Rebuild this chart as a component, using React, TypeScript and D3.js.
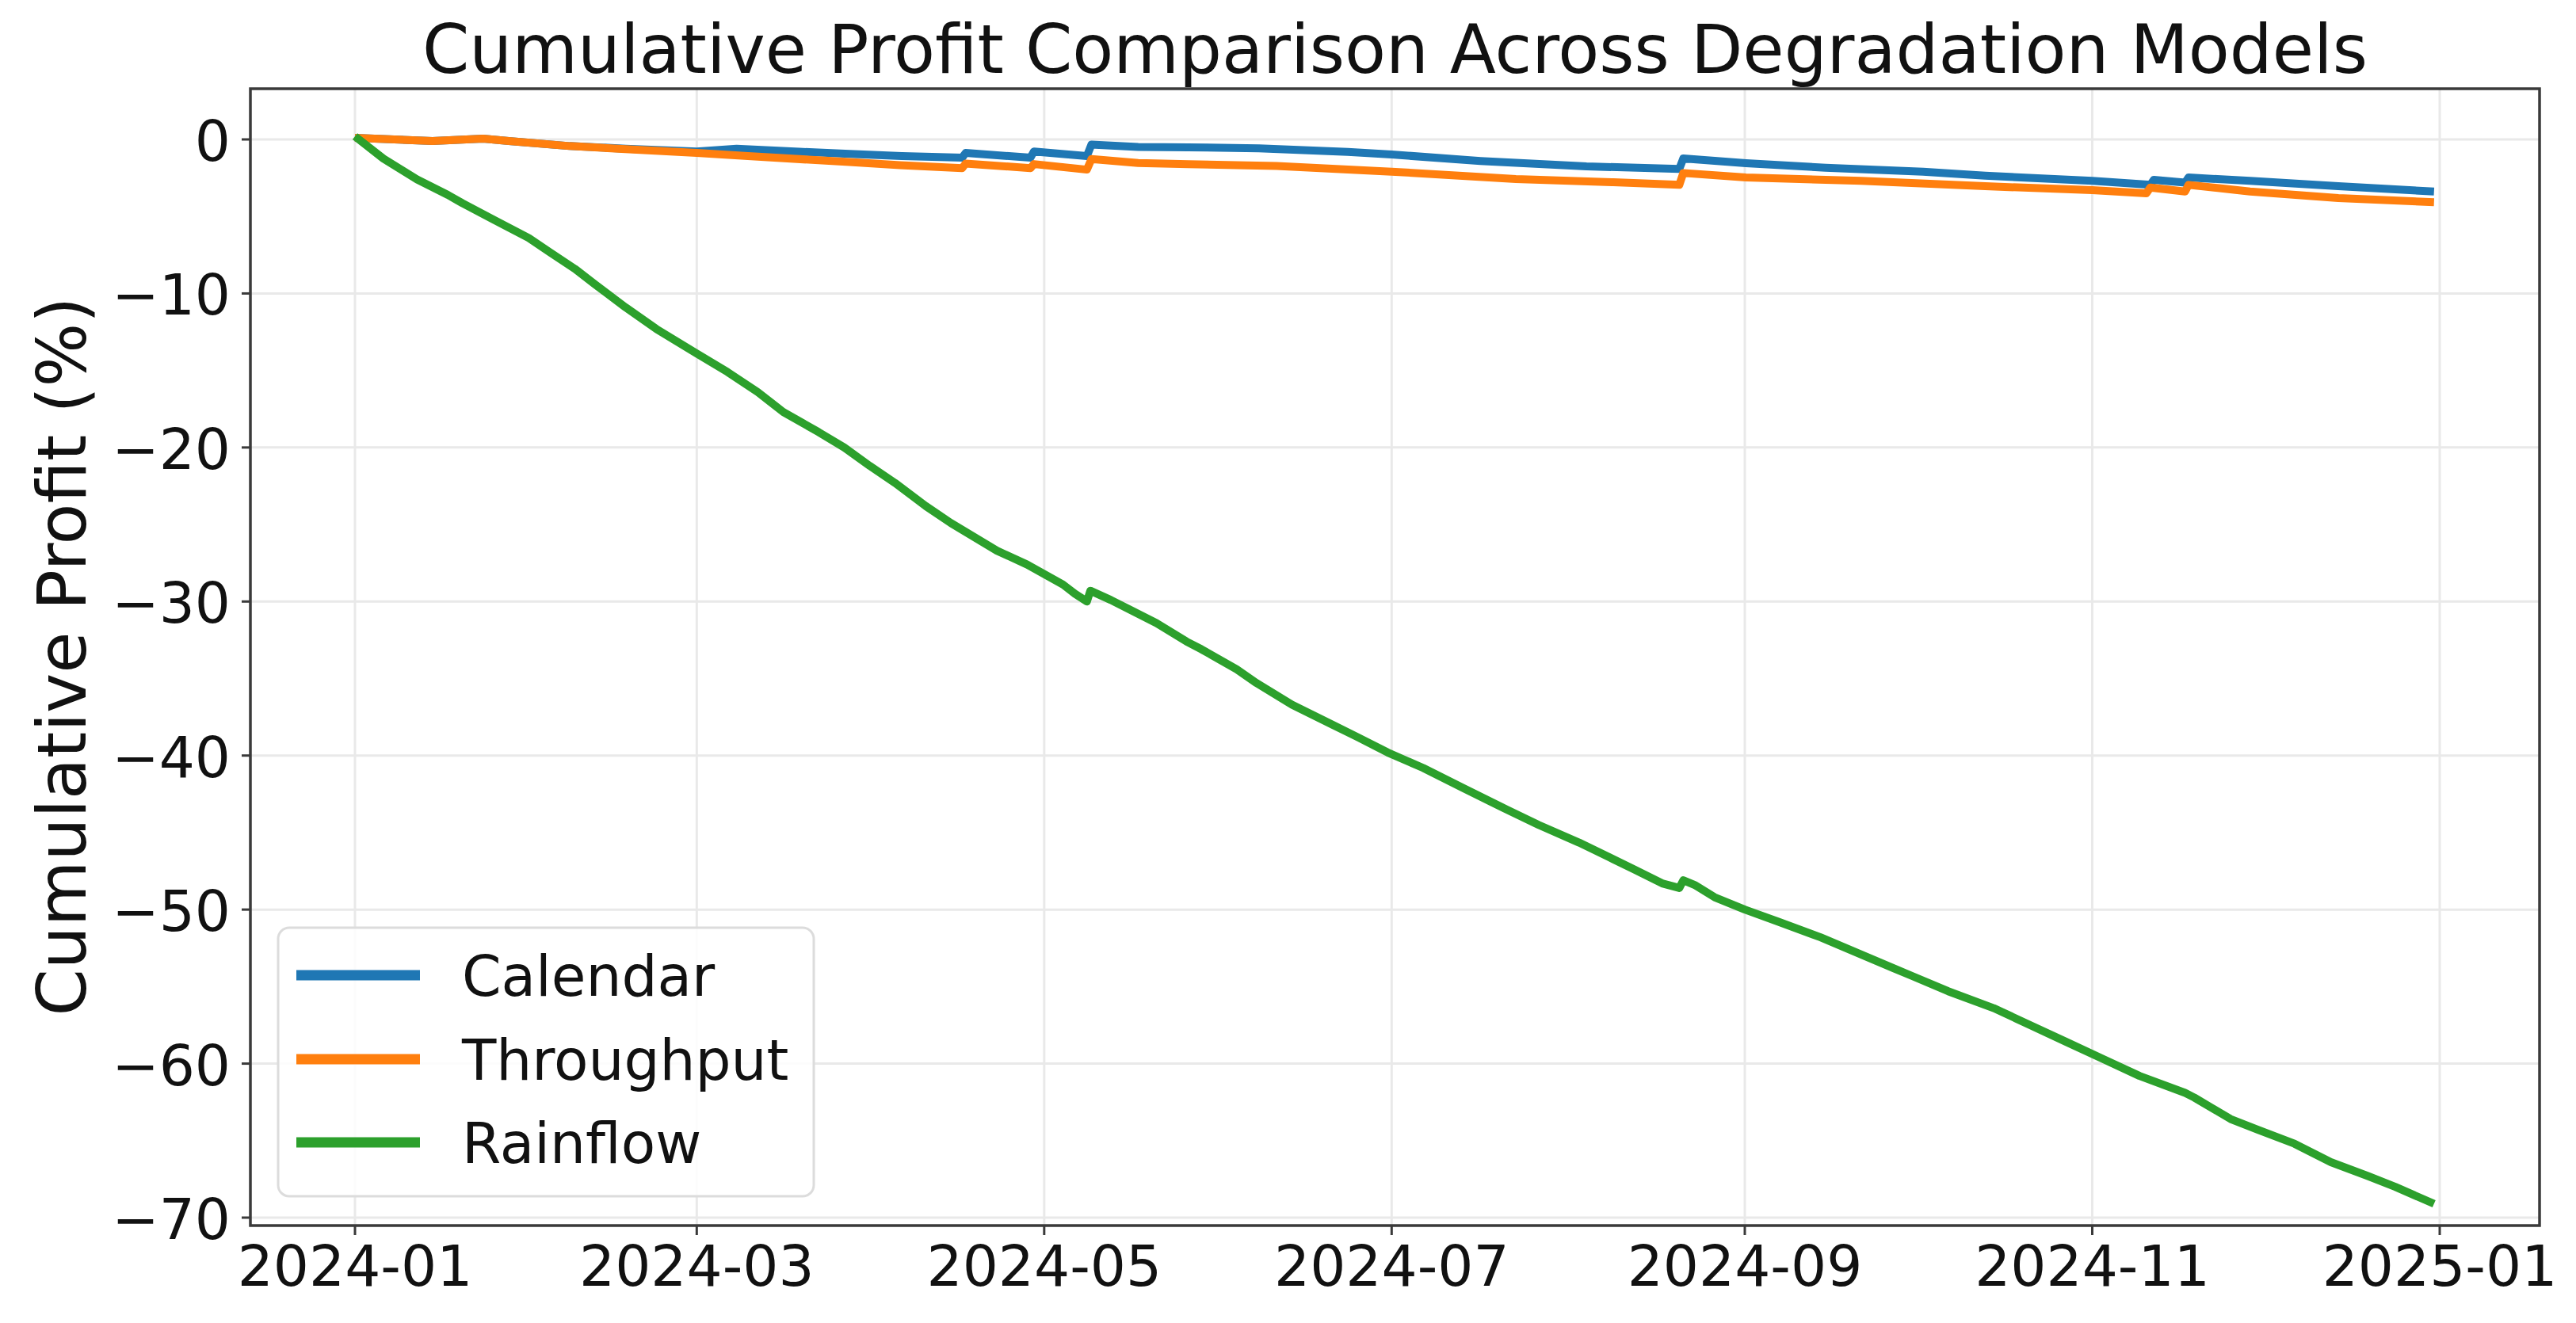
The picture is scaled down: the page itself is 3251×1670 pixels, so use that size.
import React from "react";
import * as d3 from "d3";

// ---- data: [days since 2024-01-01, cumulative profit %] ----
const calendar: [number, number][] = [
  [0, 0.1], [13.6, -0.1], [22.5, 0.05], [27, -0.1], [37.7, -0.43], [47.5, -0.6], [60, -0.78],
  [67, -0.6], [78, -0.8], [86.8, -0.94], [96, -1.08], [106.6, -1.18], [107.2, -0.88], [118.6, -1.18],
  [119.2, -0.78], [128.5, -1.08], [129.3, -0.33], [137.5, -0.49], [146.3, -0.51], [158.7, -0.58],
  [174.3, -0.81], [182, -0.98], [197.6, -1.4], [216.2, -1.75], [232.5, -1.92], [233.2, -1.23],
  [244.2, -1.54], [258.2, -1.84], [275.3, -2.09], [286.2, -2.35], [305, -2.69], [315.2, -2.95],
  [315.8, -2.62], [321.3, -2.8], [321.9, -2.47], [332.7, -2.69], [348.2, -3.04], [365, -3.38],
];

const throughput: [number, number][] = [
  [0, 0.1], [13.6, -0.1], [22.5, 0.05], [27, -0.1], [37.7, -0.43], [47.5, -0.63], [60, -0.88],
  [69, -1.08], [86.8, -1.47], [95.7, -1.67], [106.6, -1.86], [107.2, -1.57], [118.6, -1.86],
  [119.2, -1.6], [128.5, -1.96], [129.3, -1.27], [137.5, -1.53], [146.3, -1.61], [161.8, -1.72],
  [182, -2.09], [203.8, -2.57], [220.9, -2.78], [232.5, -2.95], [233.2, -2.18], [244.2, -2.47],
  [264.4, -2.69], [286.2, -3.04], [305, -3.29], [314.5, -3.5], [315.2, -3.12], [321.3, -3.38],
  [321.9, -2.95], [332.7, -3.38], [348.2, -3.81], [365, -4.07],
];

const rainflow: [number, number][] = [
  [0, 0.2], [5, -1.25], [10.9, -2.6], [16.3, -3.6], [18.9, -4.15], [24.3, -5.2], [30.5, -6.4],
  [34.1, -7.3], [38.6, -8.4], [42.1, -9.4], [47.5, -10.9], [52.9, -12.3], [60, -13.9],
  [65.4, -15.1], [70.7, -16.4], [75.2, -17.7], [81.4, -19.0], [85.9, -20.0], [90.4, -21.2],
  [94.8, -22.3], [100.2, -23.8], [104.6, -24.9], [112.7, -26.7], [118, -27.6], [124.3, -28.9],
  [126.4, -29.5], [128.5, -30.0], [129.1, -29.3], [132.7, -29.9], [140.7, -31.4], [146, -32.6],
  [148.6, -33.1], [154.8, -34.4], [158.3, -35.3], [164.5, -36.7], [171.6, -38.0], [176, -38.8],
  [181.3, -39.8], [187.5, -40.8], [194.5, -42.1], [201.6, -43.4], [207.8, -44.5], [214.9, -45.65],
  [220.2, -46.6], [224.6, -47.4], [229.5, -48.3], [232.5, -48.6], [233.2, -48.1], [235.2, -48.4],
  [238.7, -49.2], [244, -50.0], [250, -50.8], [257.3, -51.8], [263.7, -52.8], [270.1, -53.8],
  [273.3, -54.3], [279.7, -55.3], [287.7, -56.4], [294.1, -57.5], [300.5, -58.6], [306.9, -59.7],
  [313.3, -60.8], [321.3, -61.9], [322.9, -62.2], [329.3, -63.6], [334.1, -64.3], [340.5, -65.2],
  [346.9, -66.4], [353.4, -67.3], [358.2, -68.0], [365, -69.1],
];

const seriesNames = ["Calendar", "Throughput", "Rainflow"];
const seriesColors = ["#1f77b4", "#ff7f0e", "#2ca02c"];
const yTicks = [0, -10, -20, -30, -40, -50, -60, -70];
const xTickDates = ["2024-01-01", "2024-03-01", "2024-05-01", "2024-07-01", "2024-09-01", "2024-11-01", "2025-01-01"];

const W = 3251;
const H = 1670;
const plot = { left: 316, right: 3205, top: 112, bottom: 1547 };
const FONT = "'DejaVu Sans', sans-serif";

const START = Date.UTC(2024, 0, 1);
const toDate = (d: number) => new Date(START + d * 86400000);

export default function App() {
  const xBase = d3.scaleUtc().domain([new Date(START), new Date(Date.UTC(2025, 0, 1))]).range([448, 3079]);
  const x = d3.scaleUtc().domain([xBase.invert(plot.left), xBase.invert(plot.right)]).range([plot.left, plot.right]);
  const yBase = d3.scaleLinear().domain([0, -70]).range([176, 1537]);
  const y = d3.scaleLinear().domain([yBase.invert(plot.bottom), yBase.invert(plot.top)]).range([plot.bottom, plot.top]);

  const line = d3
    .line<[number, number]>()
    .x((d) => x(toDate(d[0])))
    .y((d) => y(d[1]));

  const data = [calendar, throughput, rainflow];
  const fmt = d3.utcFormat("%Y-%m");
  const xt = xTickDates.map((s) => new Date(s + "T00:00:00Z"));

  const legend = { x: 351, y: 1171, w: 676, h: 339 };
  const rowY = [1231, 1337, 1442];

  return (
    <svg width={W} height={H} style={{ position: "absolute", left: 0, top: 0, background: "#fff" }} fontFamily={FONT}>
      <rect x={0} y={0} width={W} height={H} fill="#fff" />
      <g stroke="#e9e9e9" strokeWidth={3}>
        {yTicks.map((t) => (
          <line key={"gy" + t} x1={plot.left} x2={plot.right} y1={y(t)} y2={y(t)} />
        ))}
        {xt.map((t, i) => (
          <line key={"gx" + i} x1={x(t)} x2={x(t)} y1={plot.top} y2={plot.bottom} />
        ))}
      </g>
      <g fill="none" strokeLinejoin="round" strokeLinecap="butt">
        {data.map((d, i) => (
          <path key={i} d={line(d) || ""} stroke={seriesColors[i]} strokeWidth={10} />
        ))}
      </g>
      <rect
        x={plot.left}
        y={plot.top}
        width={plot.right - plot.left}
        height={plot.bottom - plot.top}
        fill="none"
        stroke="#3a3a3a"
        strokeWidth={3.5}
      />
      <g>
        {yTicks.map((t) => (
          <g key={"yt" + t}>
            <line x1={plot.left - 11} x2={plot.left} y1={y(t)} y2={y(t)} stroke="#3a3a3a" strokeWidth={3} />
            <text x={291} y={y(t) + 27} textAnchor="end" fontSize={71} fill="#111">
              {t < 0 ? "\u2212" + Math.abs(t) : String(t)}
            </text>
          </g>
        ))}
      </g>
      <g>
        {xt.map((t, i) => (
          <g key={"xt" + i}>
            <line x1={x(t)} x2={x(t)} y1={plot.bottom} y2={plot.bottom + 12} stroke="#3a3a3a" strokeWidth={3} />
            <text x={x(t)} y={1623} textAnchor="middle" fontSize={71} fill="#111">
              {fmt(t)}
            </text>
          </g>
        ))}
      </g>
      <text x={(plot.left + plot.right) / 2} y={92} textAnchor="middle" fontSize={85} fill="#111">
        Cumulative Profit Comparison Across Degradation Models
      </text>
      <text
        transform={`translate(108, ${(374 + 1283) / 2}) rotate(-90)`}
        textAnchor="middle"
        fontSize={85}
        fill="#111"
      >
        Cumulative Profit (%)
      </text>
      <g>
        <rect
          x={legend.x}
          y={legend.y}
          width={legend.w}
          height={legend.h}
          rx={14}
          fill="#fff"
          fillOpacity={0.85}
          stroke="#dcdcdc"
          strokeWidth={3}
        />
        {seriesNames.map((n, i) => (
          <g key={n}>
            <line x1={374} x2={530} y1={rowY[i]} y2={rowY[i]} stroke={seriesColors[i]} strokeWidth={13} />
            <text x={583} y={rowY[i] + 26} fontSize={71} fill="#111">
              {n}
            </text>
          </g>
        ))}
      </g>
    </svg>
  );
}
